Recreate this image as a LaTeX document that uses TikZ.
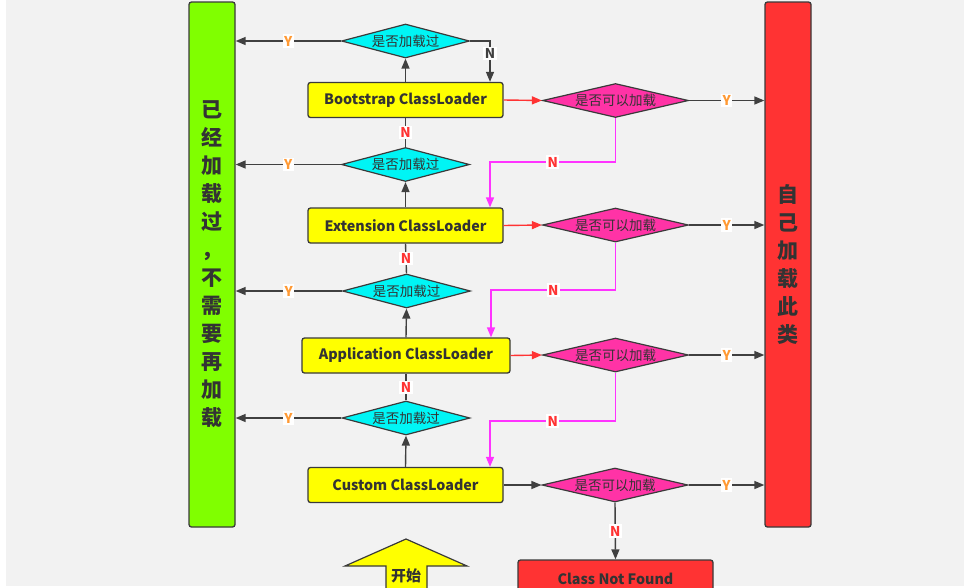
\documentclass[tikz,border=0pt]{standalone}
\usepackage{fontspec}
\setmainfont{Noto Sans CJK SC}
\usetikzlibrary{shapes.geometric,arrows.meta,calc}
\definecolor{bgc}{HTML}{F2F2F2}
\definecolor{edge}{HTML}{3A3A3A}
\definecolor{lin}{HTML}{404040}
\definecolor{txt}{HTML}{333333}
\definecolor{boxyellow}{HTML}{FFFF00}
\definecolor{cyanc}{HTML}{00F5F5}
\definecolor{pinkc}{HTML}{FF33A6}
\definecolor{greenc}{HTML}{80FF00}
\definecolor{redc}{HTML}{FF3333}
\definecolor{magc}{HTML}{FF33FF}
\definecolor{orangec}{HTML}{FF9933}
\begin{document}
\begin{tikzpicture}[x=1pt,y=-1pt,
  ybox/.style={draw=edge, line width=1.3pt, rounded corners=2.5pt, fill=boxyellow,
    font=\bfseries\fontsize{14.3}{16}\selectfont, text=txt, minimum height=35pt, inner sep=0pt},
  tallbox/.style={draw=edge, line width=1.3pt, rounded corners=2.5pt,
    minimum width=46pt, minimum height=525pt, inner sep=0pt, align=center, text=txt,
    font=\bfseries\fontsize{21}{28}\selectfont},
  cdia/.style={diamond, draw=edge, line width=1.2pt, fill=cyanc, aspect=3.8,
    minimum width=128pt, minimum height=34pt, inner sep=0pt,
    font=\fontsize{13.5}{14}\selectfont, text=txt},
  pdia/.style={diamond, draw=edge, line width=1.2pt, fill=pinkc, aspect=4.3,
    minimum width=146pt, minimum height=34pt, inner sep=0pt,
    font=\fontsize{13.5}{14}\selectfont, text=txt},
  arr/.style={draw=lin, line width=1.4pt, -{Triangle[length=10pt,width=8pt]}},
  plain/.style={draw=lin, line width=1.4pt},
  redarr/.style={draw=redc, line width=1.4pt, -{Triangle[length=10pt,width=8pt]}},
  magarr/.style={draw=magc, line width=1.4pt, -{Triangle[length=10pt,width=8pt]}},
  ylab/.style={fill=white, text=orangec, font=\bfseries\fontsize{13.5}{14}\selectfont, inner sep=1.5pt},
  nlab/.style={fill=white, text=redc, font=\bfseries\fontsize{13.5}{14}\selectfont, inner sep=1.5pt},
  glab/.style={fill=white, text=lin, font=\bfseries\fontsize{13.5}{14}\selectfont, inner sep=1.5pt}
]
\useasboundingbox (0,0) rectangle (964,587);
\clip (0,0) rectangle (964,587);
\fill[white] (0,0) rectangle (964,587);
\fill[bgc] (6,0) rectangle (964,586);

% side boxes
\node[tallbox, fill=greenc] (done) at (212,264.5)
  {已\\经\\加\\载\\过\\，\\不\\需\\要\\再\\加\\载};
\node[tallbox, fill=redc] (self) at (788,264.5)
  {自\\己\\加\\载\\此\\类};

% loaders
\node[ybox, minimum width=195pt] (boot) at (405.5,100) {Bootstrap ClassLoader};
\node[ybox, minimum width=195pt] (ext)  at (405.5,225.5) {Extension ClassLoader};
\node[ybox, minimum width=208pt] (app)  at (406,355.5) {Application ClassLoader};
\node[ybox, minimum width=195pt] (cust) at (405.5,485) {Custom ClassLoader};

% loaded? diamonds
\node[cdia] (c1) at (405.5,41) {是否加载过};
\node[cdia] (c2) at (405.5,164.5) {是否加载过};
\node[cdia] (c3) at (406.5,291) {是否加载过};
\node[cdia] (c4) at (406,418) {是否加载过};

% can load? diamonds
\node[pdia] (p1) at (615.5,100.5) {是否可以加载};
\node[pdia] (p2) at (615.5,225) {是否可以加载};
\node[pdia] (p3) at (615.5,355) {是否可以加载};
\node[pdia] (p4) at (615,485) {是否可以加载};

% not found
\node[draw=edge, line width=1.3pt, rounded corners=2.5pt, fill=redc, text=txt,
  minimum width=195pt, minimum height=37pt, inner sep=0pt,
  font=\bfseries\fontsize{14.3}{16}\selectfont] (nf) at (615.5,578.5) {Class Not Found};

% start arrow
\filldraw[fill=boxyellow, draw=edge, line width=1.2pt]
  (406,539) -- (467,566) -- (427,566) -- (427,600) -- (386,600) -- (386,566) -- (345,566) -- cycle;
\node[text=txt, font=\bfseries\fontsize{15}{16}\selectfont] (start) at (406,576) {开始};

% up arrows loader -> loaded?
\draw[arr] (boot.north) -- (c1.south);
\draw[arr] (ext.north) -- (c2.south);
\draw[arr] (app.north) -- (c3.south);
\draw[arr] (cust.north) -- (c4.south);

% N: loaded? -> parent loader
\draw[plain] (c2.north) -- node[nlab]{N} (boot.south);
\draw[plain] (c3.north) -- node[nlab]{N} (ext.south);
\draw[plain] (c4.north) -- node[nlab]{N} (app.south);
\coordinate (tn) at (490,41);
\draw[arr] (c1.east) -- (tn) -- node[glab, pos=0.3]{N} (boot.north -| tn);

% Y: loaded -> done
\draw[arr] (c1.west) -- node[ylab]{Y} (c1.west -| done.east);
\draw[arr] (c2.west) -- node[ylab]{Y} (c2.west -| done.east);
\draw[arr] (c3.west) -- node[ylab]{Y} (c3.west -| done.east);
\draw[arr] (c4.west) -- node[ylab]{Y} (c4.west -| done.east);

% loader -> can load?
\draw[redarr] (boot.east) -- (p1.west);
\draw[redarr] (ext.east) -- (p2.west);
\draw[redarr] (app.east) -- (p3.west);
\draw[arr] (cust.east) -- (p4.west);

% Y: can load -> self
\draw[arr] (p1.east) -- node[ylab]{Y} (p1.east -| self.west);
\draw[arr] (p2.east) -- node[ylab]{Y} (p2.east -| self.west);
\draw[arr] (p3.east) -- node[ylab]{Y} (p3.east -| self.west);
\draw[arr] (p4.east) -- node[ylab]{Y} (p4.east -| self.west);

% N: can't load -> child loader
\coordinate (m1) at (490,162);
\coordinate (m2) at (491,290);
\coordinate (m3) at (490,421);
\draw[magarr] (p1.south) |- node[nlab, pos=0.75]{N} (m1) -- (ext.north -| m1);
\draw[magarr] (p2.south) |- node[nlab, pos=0.75]{N} (m2) -- (app.north -| m2);
\draw[magarr] (p3.south) |- node[nlab, pos=0.75]{N} (m3) -- (cust.north -| m3);
\draw[arr] (p4.south) -- node[nlab]{N} (nf.north);
\end{tikzpicture}
\end{document}
